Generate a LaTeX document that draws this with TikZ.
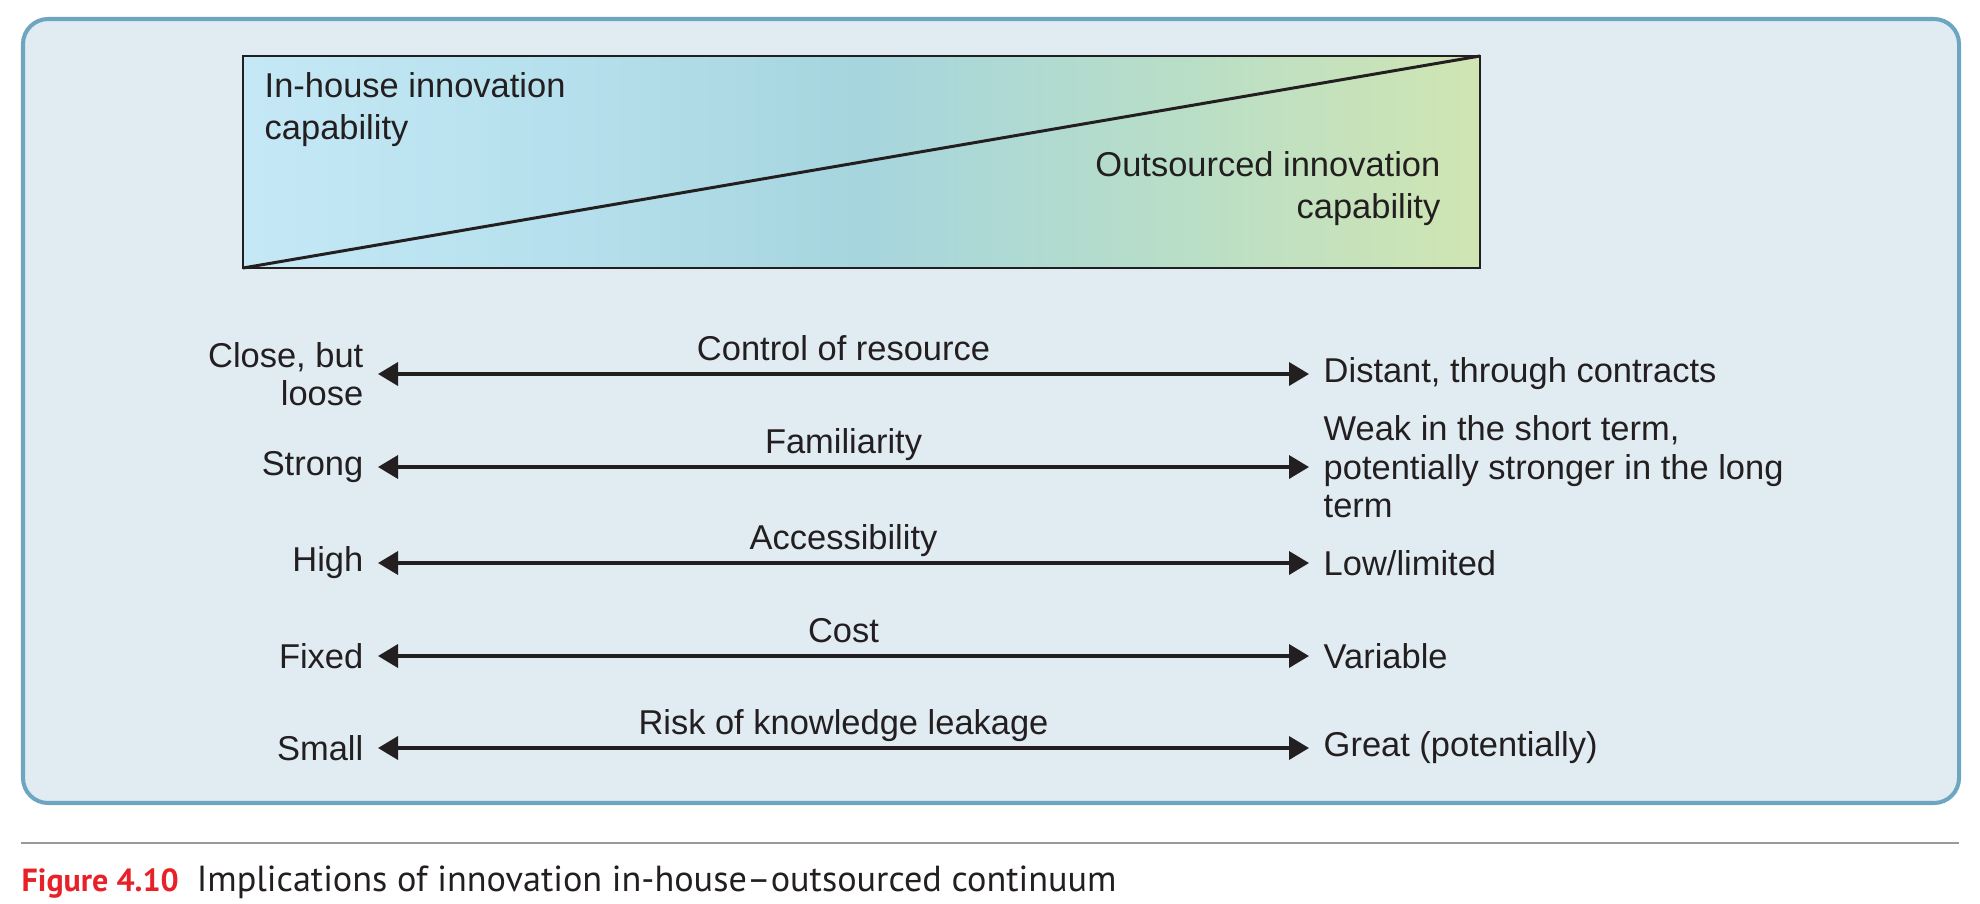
\documentclass[tikz,border=0pt]{standalone}
\usepackage{fontspec}
\setmainfont{Liberation Sans}
\newfontfamily\capfont{PT Sans}
\usetikzlibrary{arrows.meta, positioning}

\definecolor{panelfill}{RGB}{224,235,242}
\definecolor{panelline}{RGB}{110,165,192}
\definecolor{inkdark}{RGB}{35,31,32}
\definecolor{shadeleft}{RGB}{197,232,246}
\definecolor{shadeblue}{RGB}{182,224,237}
\definecolor{shademid}{RGB}{166,213,222}
\definecolor{shadegreen}{RGB}{184,222,200}
\definecolor{shaderight}{RGB}{208,229,178}
\definecolor{figred}{RGB}{232,32,40}
\definecolor{rulegray}{RGB}{154,154,154}

% the path edges sit at 25bp and 75bp of the shading
\pgfdeclarehorizontalshading{continuum}{100bp}{%
    color(0bp)=(shadeleft); color(25bp)=(shadeleft); color(37.5bp)=(shadeblue);
    color(50bp)=(shademid); color(62.5bp)=(shadegreen); color(75bp)=(shaderight);
    color(100bp)=(shaderight)}

\tikzset{
    rowtext/.style={font=\fontsize{9.8}{10.9}\selectfont, text=inkdark},
    sidel/.style={rowtext, anchor=east, align=right, inner xsep=0.14cm, inner ysep=0pt},
    sider/.style={rowtext, anchor=west, align=left, inner xsep=0.14cm, inner ysep=0pt},
    midlabel/.style={rowtext, anchor=base, yshift=0.135cm, inner sep=0pt},
    boxtext/.style={font=\fontsize{9.8}{11.8}\selectfont, text=inkdark, inner sep=0pt},
    dblarrow/.style={{Triangle[length=0.2cm,width=0.23cm]}-{Triangle[length=0.2cm,width=0.23cm]},
        line width=1pt, draw=inkdark},
}

\begin{document}
\begin{tikzpicture}[x=0.01cm, y=-0.01cm]

    \useasboundingbox (0,0) rectangle (1980,903);

    % Panel behind the diagram
    \draw[line width=1.15pt, draw=panelline, fill=panelfill, rounded corners=0.25cm]
        (23,19) rectangle (1959,803);

    % Shaded continuum box with its diagonal
    \coordinate (boxsw) at (243,268);
    \coordinate (boxne) at (1480,56);
    \shade[shading=continuum] (boxsw) rectangle (boxne);
    \draw[line width=0.7pt, draw=inkdark] (boxsw) rectangle (boxne);
    \draw[line width=0.85pt, draw=inkdark] (boxsw) -- (boxne);
    \node[boxtext, anchor=base west, align=left] (inhouse) at (264,139) {In-house innovation\\capability};
    \node[boxtext, anchor=base east, align=right] (outsrc) at (1441,218) {Outsourced innovation\\capability};

    % Control of resource
    \node[sidel] (ctrl-l) at (378,374) {Close, but\\loose};
    \node[sider] (ctrl-r) at (1309,374) {Distant, through contracts};
    \draw[dblarrow] (ctrl-l) -- node[midlabel] {Control of resource} (ctrl-r);

    % Familiarity
    \node[sidel] (fam-l) at (378,467) {Strong};
    \node[sider] (fam-r) at (1309,467) {Weak in the short term,\\potentially stronger in the long\\term};
    \draw[dblarrow] (fam-l) -- node[midlabel] {Familiarity} (fam-r);

    % Accessibility
    \node[sidel] (acc-l) at (378,563) {High};
    \node[sider] (acc-r) at (1309,563) {Low/limited};
    \draw[dblarrow] (acc-l) -- node[midlabel] {Accessibility} (acc-r);

    % Cost
    \node[sidel] (cost-l) at (378,656) {Fixed};
    \node[sider] (cost-r) at (1309,656) {Variable};
    \draw[dblarrow] (cost-l) -- node[midlabel] {Cost} (cost-r);

    % Risk of knowledge leakage
    \node[sidel] (risk-l) at (378,748) {Small};
    \node[sider] (risk-r) at (1309,748) {Great (potentially)};
    \draw[dblarrow] (risk-l) -- node[midlabel] {Risk of knowledge leakage} (risk-r);

    % Rule and caption
    \coordinate (rule-l) at (21,843);
    \coordinate (rule-r) at (1959,843);
    \draw[line width=0.7pt, draw=rulegray] (rule-l) -- (rule-r);
    \node[anchor=base west, inner sep=0pt, font=\capfont\fontsize{10.3}{12}\selectfont, text=inkdark]
        (caption) at (21,891)
        {\textcolor{figred}{\fontsize{9.1}{11}\selectfont\bfseries Figure 4.10}\hspace{0.18cm}Implications of innovation in-house–outsourced continuum};

\end{tikzpicture}
\end{document}
